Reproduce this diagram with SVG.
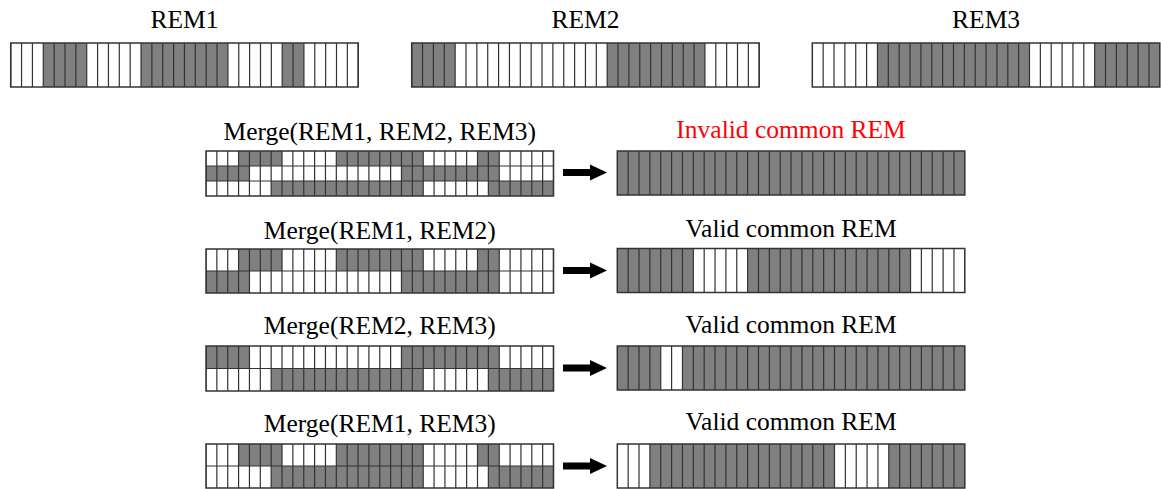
<svg xmlns="http://www.w3.org/2000/svg" width="1161" height="489" viewBox="0 0 1161 489">
<style>
.bg{fill:#fff}
.g{fill:#808080}
.v{stroke:#333;stroke-dasharray:1.2 9.66;stroke-dashoffset:0.6;fill:none}
.h{stroke:#333;stroke-width:1.2;fill:none}
.b{fill:none;stroke:#333;stroke-width:1.5}
text{font-family:"Liberation Serif","Times New Roman",serif;font-size:25.5px;text-anchor:middle;fill:#000}
.red{fill:#ff0000}
.arr{fill:#000}
</style>

<g id="rem1" transform="translate(10.7,43)">
<text x="173.76" y="-15">REM1</text>
<rect class="bg" width="347.52" height="44"/>
<rect class="g" x="32.58" width="43.44" height="44"/><rect class="g" x="130.32" width="86.88" height="44"/><rect class="g" x="271.5" width="21.72" height="44"/>
<line class="v" x1="0" y1="22" x2="347.52" y2="22" stroke-width="44"/>
<rect class="b" width="347.52" height="44"/>
</g>
<g id="rem2" transform="translate(411.7,43)">
<text x="173.76" y="-15">REM2</text>
<rect class="bg" width="347.52" height="44"/>
<rect class="g" x="0" width="43.44" height="44"/><rect class="g" x="195.48" width="97.74" height="44"/>
<line class="v" x1="0" y1="22" x2="347.52" y2="22" stroke-width="44"/>
<rect class="b" width="347.52" height="44"/>
</g>
<g id="rem3" transform="translate(812.3,43)">
<text x="173.76" y="-15">REM3</text>
<rect class="bg" width="347.52" height="44"/>
<rect class="g" x="65.16" width="152.04" height="44"/><rect class="g" x="282.36" width="65.16" height="44"/>
<line class="v" x1="0" y1="22" x2="347.52" y2="22" stroke-width="44"/>
<rect class="b" width="347.52" height="44"/>
</g>

<g id="merge123" transform="translate(206,151)">
<text x="173.76" y="-11">Merge(REM1, REM2, REM3)</text>
<rect class="bg" width="347.52" height="45"/>
<rect class="g" x="32.58" width="43.44" height="15"/><rect class="g" x="130.32" width="86.88" height="15"/><rect class="g" x="271.5" width="21.72" height="15"/>
<rect class="g" x="0" y="15" width="43.44" height="15"/><rect class="g" x="195.48" y="15" width="97.74" height="15"/>
<rect class="g" x="65.16" y="30" width="152.04" height="15"/><rect class="g" x="282.36" y="30" width="65.16" height="15"/>
<line class="v" x1="0" y1="22.5" x2="347.52" y2="22.5" stroke-width="45"/>
<path class="h" d="M0 15H347.52M0 30H347.52"/>
<rect class="b" width="347.52" height="45"/>
</g>
<g id="merge12" transform="translate(206,249)">
<text x="173.76" y="-10">Merge(REM1, REM2)</text>
<rect class="bg" width="347.52" height="44"/>
<rect class="g" x="32.58" width="43.44" height="22"/><rect class="g" x="130.32" width="86.88" height="22"/><rect class="g" x="271.5" width="21.72" height="22"/>
<rect class="g" x="0" y="22" width="43.44" height="22"/><rect class="g" x="195.48" y="22" width="97.74" height="22"/>
<line class="v" x1="0" y1="22" x2="347.52" y2="22" stroke-width="44"/>
<path class="h" d="M0 22H347.52"/>
<rect class="b" width="347.52" height="44"/>
</g>
<g id="merge23" transform="translate(206,346)">
<text x="173.76" y="-12">Merge(REM2, REM3)</text>
<rect class="bg" width="347.52" height="45"/>
<rect class="g" x="0" width="43.44" height="22.5"/><rect class="g" x="195.48" width="97.74" height="22.5"/>
<rect class="g" x="65.16" y="22.5" width="152.04" height="22.5"/><rect class="g" x="282.36" y="22.5" width="65.16" height="22.5"/>
<line class="v" x1="0" y1="22.5" x2="347.52" y2="22.5" stroke-width="45"/>
<path class="h" d="M0 22.5H347.52"/>
<rect class="b" width="347.52" height="45"/>
</g>
<g id="merge13" transform="translate(206,444)">
<text x="173.76" y="-12">Merge(REM1, REM3)</text>
<rect class="bg" width="347.52" height="44"/>
<rect class="g" x="32.58" width="43.44" height="22"/><rect class="g" x="130.32" width="86.88" height="22"/><rect class="g" x="271.5" width="21.72" height="22"/>
<rect class="g" x="65.16" y="22" width="152.04" height="22"/><rect class="g" x="282.36" y="22" width="65.16" height="22"/>
<line class="v" x1="0" y1="22" x2="347.52" y2="22" stroke-width="44"/>
<path class="h" d="M0 22H347.52"/>
<rect class="b" width="347.52" height="44"/>
</g>

<g id="result123" transform="translate(617.3,151)">
<text class="red" x="173.76" y="-13">Invalid common REM</text>
<rect class="g" width="347.52" height="44"/>
<line class="v" x1="0" y1="22" x2="347.52" y2="22" stroke-width="44"/>
<rect class="b" width="347.52" height="44"/>
</g>
<g id="result12" transform="translate(617.3,248.5)">
<text x="173.76" y="-12">Valid common REM</text>
<rect class="bg" width="347.52" height="44"/>
<rect class="g" x="0" width="76.02" height="44"/><rect class="g" x="130.32" width="162.9" height="44"/>
<line class="v" x1="0" y1="22" x2="347.52" y2="22" stroke-width="44"/>
<rect class="b" width="347.52" height="44"/>
</g>
<g id="result23" transform="translate(617.3,346)">
<text x="173.76" y="-13">Valid common REM</text>
<rect class="bg" width="347.52" height="44"/>
<rect class="g" x="0" width="43.44" height="44"/><rect class="g" x="65.16" width="282.36" height="44"/>
<line class="v" x1="0" y1="22" x2="347.52" y2="22" stroke-width="44"/>
<rect class="b" width="347.52" height="44"/>
</g>
<g id="result13" transform="translate(617.3,444)">
<text x="173.76" y="-14">Valid common REM</text>
<rect class="bg" width="347.52" height="44"/>
<rect class="g" x="32.58" width="184.62" height="44"/><rect class="g" x="271.5" width="76.02" height="44"/>
<line class="v" x1="0" y1="22" x2="347.52" y2="22" stroke-width="44"/>
<rect class="b" width="347.52" height="44"/>
</g>

<g id="connectors">
<polygon class="arr" points="563,169 590,169 590,164.5 607,172.5 590,180.5 590,176 563,176"/>
<polygon class="arr" points="563,267 590,267 590,262.5 607,270.5 590,278.5 590,274 563,274"/>
<polygon class="arr" points="563,364.5 590,364.5 590,360 607,368 590,376 590,371.5 563,371.5"/>
<polygon class="arr" points="563,462.5 590,462.5 590,458 607,466 590,474 590,469.5 563,469.5"/>
</g>
</svg>
